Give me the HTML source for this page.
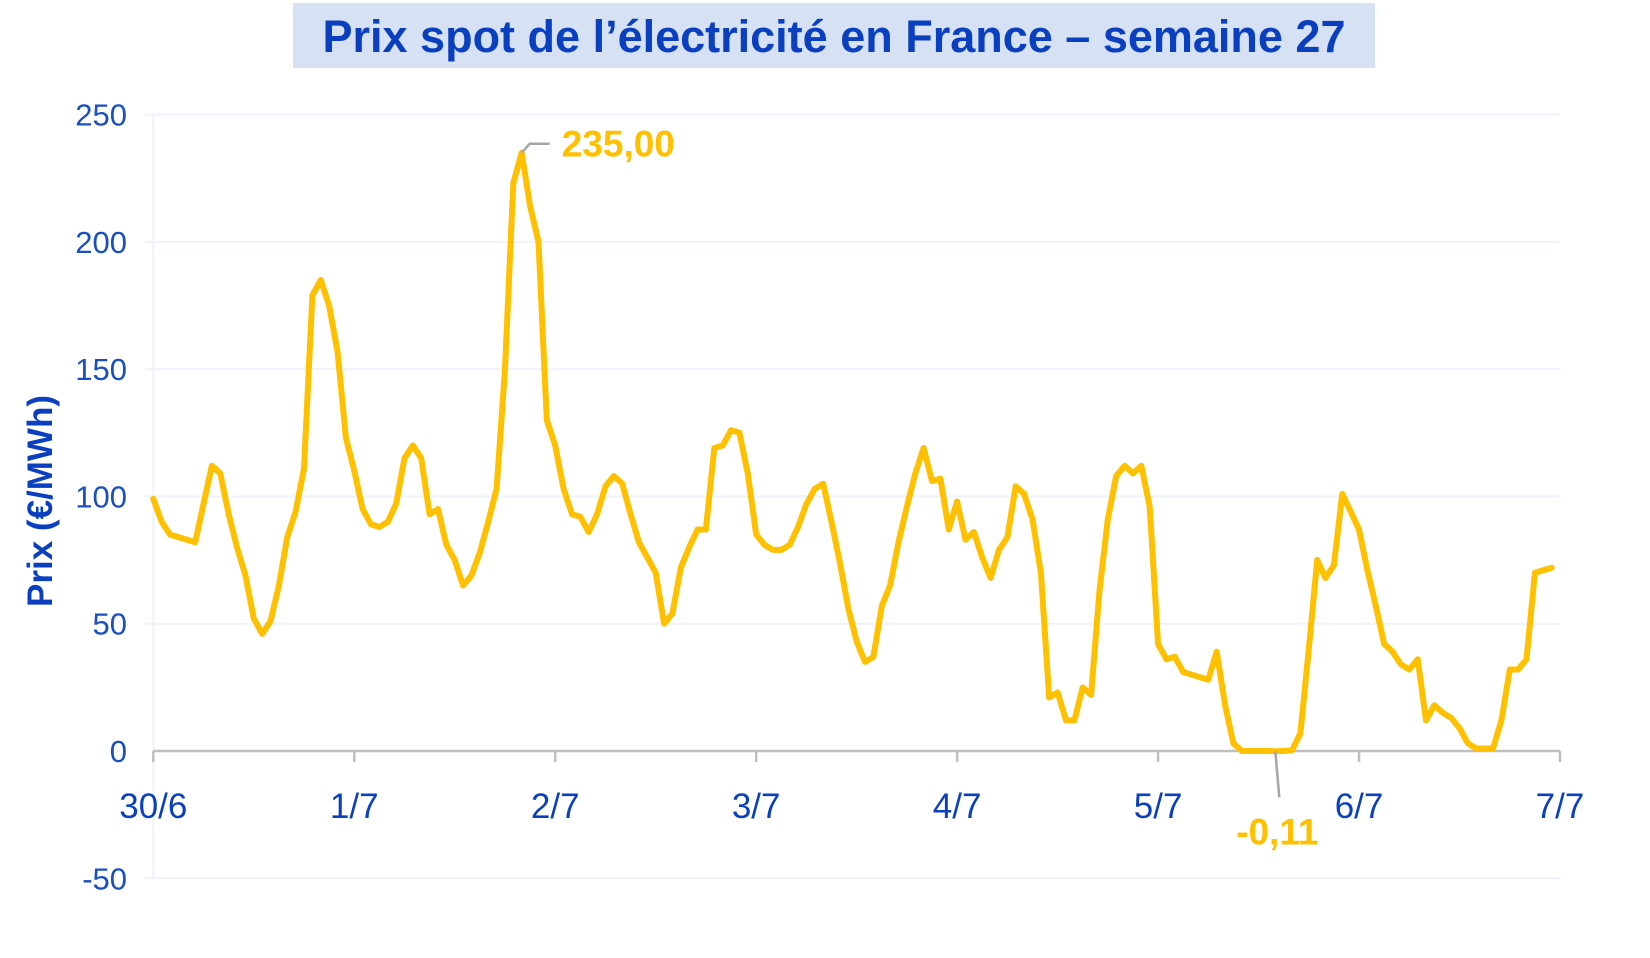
<!DOCTYPE html>
<html><head><meta charset="utf-8"><style>
body{margin:0;background:#fff;width:1650px;height:953px;overflow:hidden;font-family:"Liberation Sans",sans-serif}
</style></head><body>
<svg id="chart" width="1650" height="953" viewBox="0 0 1650 953" xmlns="http://www.w3.org/2000/svg" font-family="Liberation Sans, sans-serif">
<rect x="293" y="3" width="1082" height="65" fill="#d6e1f3"/>
<text x="834" y="52" text-anchor="middle" font-size="45" font-weight="bold" fill="#0a3fbf">Prix spot de l’électricité en France – semaine 27</text>
<text transform="translate(52,501) rotate(-90)" text-anchor="middle" font-size="35" font-weight="bold" fill="#0a3fbf">Prix (€/MWh)</text>
<g id="grid"></g><g id="axes"></g><g id="series"></g><g id="annot"></g>
</svg>
<script>
const yTicks=[-50,0,50,100,150,200,250];
const dayLabels=["30/6","1/7","2/7","3/7","4/7","5/7","6/7","7/7"];
const prices=[99,90,85,84,83,82,97,112,109,93,80,69,52,46,51,65,84,94,111,179,185,175,157,123,
110,95,89,88,90,97,115,120,115,93,95,81,75,65,69,78,90,103,150,223,235,214,200,130,
120,103,93,92,86,93,104,108,105,93,82,76,70,50,54,72,80,87,87,119,120,126,125,109,
85,81,79,79,81,88,97,103,105,90,74,56,43,35,37,57,65,82,96,109,119,106,107,87,
98,83,86,76,68,79,84,104,101,91,70,21,23,12,12,25,22,63,91,108,112,109,112,96,
42,36,37,31,30,29,28,39,18,3,0,0,0,0,-0.11,0,0.3,7,40,75,68,73,101,94,
87,71,57,42,39,34,32,36,12,18,15,13,9,3,1,1,1,12,32,32,36,70,71,72];
const peakLabel="235,00", minLabel="-0,11";
const NS="http://www.w3.org/2000/svg";
const X0=153.3,X1=1560,Y0=751,PXU=(751-114.5)/250;
function xh(h){return X0+h*(X1-X0)/168;}
function yv(v){return Y0-v*PXU;}
function mk(t,a,p){const e=document.createElementNS(NS,t);for(const k in a)e.setAttribute(k,a[k]);document.getElementById(p).appendChild(e);return e;}
yTicks.forEach(v=>{
  if(v!==0){const l=mk('line',{x1:X0-8,x2:X1,y1:yv(v),y2:yv(v),stroke:'#eef3fb','stroke-width':2},'grid');
  
  }
  const t=mk('text',{x:127,y:yv(v)+11,'text-anchor':'end','font-size':31,fill:'#1a4fc0'},'axes');
  
  
  t.textContent=v;
});
const vl=mk('line',{x1:X0,x2:X0,y1:yv(250),y2:yv(-50),stroke:'#eef3fb','stroke-width':2},'grid');


const xa=mk('line',{x1:X0,x2:X1,y1:Y0,y2:Y0,stroke:'#bfbfbf','stroke-width':2.5},'axes');


dayLabels.forEach((d,i)=>{
  const x=xh(i*24);
  const tk=mk('line',{x1:x,x2:x,y1:Y0,y2:Y0+11,stroke:'#bfbfbf','stroke-width':2.5},'axes');
  
  
  const t=mk('text',{x:x,y:818,'text-anchor':'middle','font-size':35,fill:'#0a3fbf'},'axes');
  
  
  t.textContent=d;
});
const pts=prices.map((v,i)=>xh(i).toFixed(1)+','+yv(v).toFixed(1)).join(' ');
const pl=mk('polyline',{points:pts,fill:'none',stroke:'#ffc000','stroke-width':6,'stroke-linejoin':'round','stroke-linecap':'round'},'series');


let mi=0,ni=0;prices.forEach((v,i)=>{if(v>prices[mi])mi=i;if(v<prices[ni])ni=i;});
const px=xh(mi),py=yv(prices[mi]);
const l1=mk('polyline',{points:`${px},${py} ${px+8},${py-9} ${px+28},${py-9}`,fill:'none',stroke:'#a6a6a6','stroke-width':2.5},'annot');


const t1=mk('text',{x:px+40,y:py+4,'font-size':37,'font-weight':'bold',fill:'#ffc000'},'annot');


t1.textContent=peakLabel;
const nx=xh(ni),ny=yv(prices[ni]);
const l2=mk('line',{x1:nx,y1:ny,x2:nx+4,y2:ny+46,stroke:'#a6a6a6','stroke-width':2.5},'annot');


const t2=mk('text',{x:nx+2,y:ny+93,'text-anchor':'middle','font-size':37,'font-weight':'bold',fill:'#ffc000'},'annot');


t2.textContent=minLabel;
</script>
</body></html>
